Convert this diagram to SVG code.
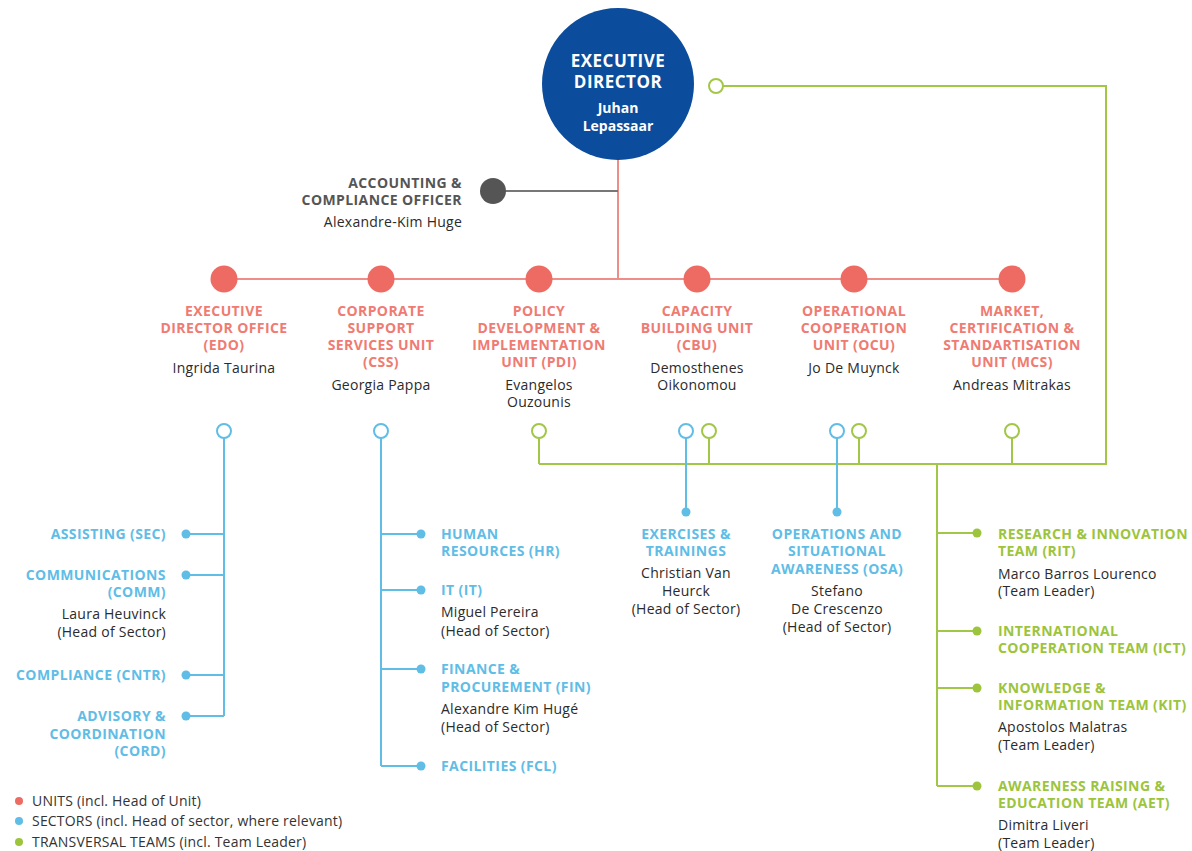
<svg xmlns="http://www.w3.org/2000/svg" width="1192" height="851" viewBox="0 0 1192 851">
<style>
text{font-family:"Open Sans","Noto Sans",sans-serif}
.u{font-size:14px;letter-spacing:0.4px;font-weight:700;fill:#ef7b72}
.s{font-size:14px;letter-spacing:0.4px;font-weight:700;fill:#5fbde6}
.t{font-size:14px;letter-spacing:0.4px;font-weight:700;fill:#9cc43d}
.n{font-size:14px;letter-spacing:0.25px;fill:#2b2b2b}
.c{text-anchor:middle}
.r{text-anchor:end}
.lr{stroke:#ef8e88;stroke-width:2;fill:none}
.lb{stroke:#5fbde6;stroke-width:2;fill:none}
.lg{stroke:#a2c747;stroke-width:2;fill:none}
.ru{fill:#ee6b63}
.ob{fill:#fff;stroke:#5fbde6;stroke-width:2}
.og{fill:#fff;stroke:#a2c747;stroke-width:2}
.db{fill:#5fbde6}
.dg{fill:#9cc43d}
.lgd{font-size:14px;letter-spacing:0.2px;fill:#333}
</style>
<rect width="1192" height="851" fill="#fff"/>
<g id="connectors">
<line class="lr" x1="618" y1="150" x2="618" y2="279"/>
<line x1="493" y1="191" x2="618" y2="191" stroke="#777" stroke-width="2"/>
<line class="lr" x1="224" y1="279" x2="1012" y2="279"/>
<polyline class="lg" points="723,86 1106,86 1106,464 539,464"/>
<line class="lg" x1="539" y1="438" x2="539" y2="464"/>
<line class="lg" x1="709" y1="438" x2="709" y2="464"/>
<line class="lg" x1="859" y1="438" x2="859" y2="464"/>
<line class="lg" x1="1012" y1="438" x2="1012" y2="464"/>
<line class="lg" x1="937" y1="464" x2="937" y2="786"/>
<line class="lg" x1="937" y1="533" x2="977" y2="533"/>
<line class="lg" x1="937" y1="631" x2="977" y2="631"/>
<line class="lg" x1="937" y1="688" x2="977" y2="688"/>
<line class="lg" x1="937" y1="786" x2="977" y2="786"/>
<line class="lb" x1="686" y1="438" x2="686" y2="512"/>
<line class="lb" x1="837" y1="438" x2="837" y2="512"/>
<line class="lb" x1="224" y1="438" x2="224" y2="716"/>
<line class="lb" x1="186" y1="534" x2="224" y2="534"/>
<line class="lb" x1="186" y1="575" x2="224" y2="575"/>
<line class="lb" x1="186" y1="675" x2="224" y2="675"/>
<line class="lb" x1="186" y1="716" x2="224" y2="716"/>
<line class="lb" x1="381" y1="438" x2="381" y2="766"/>
<line class="lb" x1="381" y1="534" x2="421" y2="534"/>
<line class="lb" x1="381" y1="590" x2="421" y2="590"/>
<line class="lb" x1="381" y1="669" x2="421" y2="669"/>
<line class="lb" x1="381" y1="766" x2="421" y2="766"/>
<circle class="ob" cx="224" cy="431" r="7"/>
<circle class="ob" cx="381" cy="431" r="7"/>
<circle class="og" cx="539" cy="431" r="7"/>
<circle class="ob" cx="686" cy="431" r="7"/>
<circle class="og" cx="709" cy="431" r="7"/>
<circle class="ob" cx="837" cy="431" r="7"/>
<circle class="og" cx="859" cy="431" r="7"/>
<circle class="og" cx="1012" cy="431" r="7"/>
<circle class="og" cx="716" cy="86" r="7"/>
</g>
<g id="ed">
<circle cx="618" cy="84" r="76" fill="#0b4c9c"/>
<text x="618" y="67" class="c" font-size="17" letter-spacing="0.5" font-weight="700" fill="#fff">EXECUTIVE</text>
<text x="618" y="88" class="c" font-size="17" letter-spacing="0.5" font-weight="700" fill="#fff">DIRECTOR</text>
<text x="618" y="113" class="c" font-size="14" font-weight="700" fill="#fff">Juhan</text>
<text x="618" y="131" class="c" font-size="14" font-weight="700" fill="#fff">Lepassaar</text>
</g>
<g id="aco">
<circle cx="493" cy="191" r="13" fill="#555"/>
<text x="462" y="188" class="r" font-size="14" letter-spacing="0.4" font-weight="700" fill="#555">ACCOUNTING &amp;</text>
<text x="462" y="205" class="r" font-size="14" letter-spacing="0.4" font-weight="700" fill="#555">COMPLIANCE OFFICER</text>
<text x="462" y="227" class="r n">Alexandre-Kim Huge</text>
</g>
<g id="edo">
<circle class="ru" cx="224" cy="279" r="13.5"/>
<text class="u c" x="224" y="316">EXECUTIVE</text>
<text class="u c" x="224" y="333">DIRECTOR OFFICE</text>
<text class="u c" x="224" y="350">(EDO)</text>
<text class="n c" x="224" y="373">Ingrida Taurina</text>
</g>
<g id="css">
<circle class="ru" cx="381" cy="279" r="13.5"/>
<text class="u c" x="381" y="316">CORPORATE</text>
<text class="u c" x="381" y="333">SUPPORT</text>
<text class="u c" x="381" y="350">SERVICES UNIT</text>
<text class="u c" x="381" y="367">(CSS)</text>
<text class="n c" x="381" y="390">Georgia Pappa</text>
</g>
<g id="pdi">
<circle class="ru" cx="539" cy="279" r="13.5"/>
<text class="u c" x="539" y="316">POLICY</text>
<text class="u c" x="539" y="333">DEVELOPMENT &amp;</text>
<text class="u c" x="539" y="350">IMPLEMENTATION</text>
<text class="u c" x="539" y="367">UNIT (PDI)</text>
<text class="n c" x="539" y="390">Evangelos</text>
<text class="n c" x="539" y="407">Ouzounis</text>
</g>
<g id="cbu">
<circle class="ru" cx="697" cy="279" r="13.5"/>
<text class="u c" x="697" y="316">CAPACITY</text>
<text class="u c" x="697" y="333">BUILDING UNIT</text>
<text class="u c" x="697" y="350">(CBU)</text>
<text class="n c" x="697" y="373">Demosthenes</text>
<text class="n c" x="697" y="390">Oikonomou</text>
</g>
<g id="ocu">
<circle class="ru" cx="854" cy="279" r="13.5"/>
<text class="u c" x="854" y="316">OPERATIONAL</text>
<text class="u c" x="854" y="333">COOPERATION</text>
<text class="u c" x="854" y="350">UNIT (OCU)</text>
<text class="n c" x="854" y="373">Jo De Muynck</text>
</g>
<g id="mcs">
<circle class="ru" cx="1012" cy="279" r="13.5"/>
<text class="u c" x="1012" y="316">MARKET,</text>
<text class="u c" x="1012" y="333">CERTIFICATION &amp;</text>
<text class="u c" x="1012" y="350">STANDARTISATION</text>
<text class="u c" x="1012" y="367">UNIT (MCS)</text>
<text class="n c" x="1012" y="390">Andreas Mitrakas</text>
</g>
<g id="sec">
<circle class="db" cx="186" cy="534" r="4.5"/>
<text class="s r" x="166" y="539">ASSISTING (SEC)</text>
</g>
<g id="comm">
<circle class="db" cx="186" cy="575" r="4.5"/>
<text class="s r" x="166" y="580">COMMUNICATIONS</text>
<text class="s r" x="166" y="597">(COMM)</text>
<text class="n r" x="166" y="619">Laura Heuvinck</text>
<text class="n r" x="166" y="637">(Head of Sector)</text>
</g>
<g id="cntr">
<circle class="db" cx="186" cy="675" r="4.5"/>
<text class="s r" x="166" y="680">COMPLIANCE (CNTR)</text>
</g>
<g id="cord">
<circle class="db" cx="186" cy="716" r="4.5"/>
<text class="s r" x="166" y="721">ADVISORY &amp;</text>
<text class="s r" x="166" y="739">COORDINATION</text>
<text class="s r" x="166" y="756">(CORD)</text>
</g>
<g id="hr">
<circle class="db" cx="421" cy="534" r="4.5"/>
<text class="s" x="441" y="539">HUMAN</text>
<text class="s" x="441" y="556">RESOURCES (HR)</text>
</g>
<g id="it">
<circle class="db" cx="421" cy="590" r="4.5"/>
<text class="s" x="441" y="595">IT (IT)</text>
<text class="n" x="441" y="617">Miguel Pereira</text>
<text class="n" x="441" y="636">(Head of Sector)</text>
</g>
<g id="fin">
<circle class="db" cx="421" cy="669" r="4.5"/>
<text class="s" x="441" y="674">FINANCE &amp;</text>
<text class="s" x="441" y="692">PROCUREMENT (FIN)</text>
<text class="n" x="441" y="714">Alexandre Kim Hugé</text>
<text class="n" x="441" y="732">(Head of Sector)</text>
</g>
<g id="fcl">
<circle class="db" cx="421" cy="766" r="4.5"/>
<text class="s" x="441" y="771">FACILITIES (FCL)</text>
</g>
<g id="ext">
<circle class="db" cx="686" cy="512" r="4.5"/>
<text class="s c" x="686" y="539">EXERCISES &amp;</text>
<text class="s c" x="686" y="556">TRAININGS</text>
<text class="n c" x="686" y="578">Christian Van</text>
<text class="n c" x="686" y="596">Heurck</text>
<text class="n c" x="686" y="614">(Head of Sector)</text>
</g>
<g id="osa">
<circle class="db" cx="837" cy="512" r="4.5"/>
<text class="s c" x="837" y="539">OPERATIONS AND</text>
<text class="s c" x="837" y="556">SITUATIONAL</text>
<text class="s c" x="837" y="574">AWARENESS (OSA)</text>
<text class="n c" x="837" y="596">Stefano</text>
<text class="n c" x="837" y="614">De Crescenzo</text>
<text class="n c" x="837" y="632">(Head of Sector)</text>
</g>
<g id="rit">
<circle class="dg" cx="977" cy="533" r="4.5"/>
<text class="t" x="998" y="539">RESEARCH &amp; INNOVATION</text>
<text class="t" x="998" y="556">TEAM (RIT)</text>
<text class="n" x="998" y="579">Marco Barros Lourenco</text>
<text class="n" x="998" y="596">(Team Leader)</text>
</g>
<g id="ict">
<circle class="dg" cx="977" cy="631" r="4.5"/>
<text class="t" x="998" y="636">INTERNATIONAL</text>
<text class="t" x="998" y="653">COOPERATION TEAM (ICT)</text>
</g>
<g id="kit">
<circle class="dg" cx="977" cy="688" r="4.5"/>
<text class="t" x="998" y="693">KNOWLEDGE &amp;</text>
<text class="t" x="998" y="710">INFORMATION TEAM (KIT)</text>
<text class="n" x="998" y="732">Apostolos Malatras</text>
<text class="n" x="998" y="750">(Team Leader)</text>
</g>
<g id="aet">
<circle class="dg" cx="977" cy="786" r="4.5"/>
<text class="t" x="998" y="791">AWARENESS RAISING &amp;</text>
<text class="t" x="998" y="808">EDUCATION TEAM (AET)</text>
<text class="n" x="998" y="830">Dimitra Liveri</text>
<text class="n" x="998" y="848">(Team Leader)</text>
</g>
<g id="legend">
<circle cx="19" cy="801" r="4" fill="#ee6b63"/>
<circle cx="19" cy="821" r="4" fill="#5fbde6"/>
<circle cx="19" cy="842" r="4" fill="#9cc43d"/>
<text class="lgd" x="32" y="806">UNITS (incl. Head of Unit)</text>
<text class="lgd" x="32" y="826">SECTORS (incl. Head of sector, where relevant)</text>
<text class="lgd" x="32" y="847">TRANSVERSAL TEAMS (incl. Team Leader)</text>
</g>
</svg>
